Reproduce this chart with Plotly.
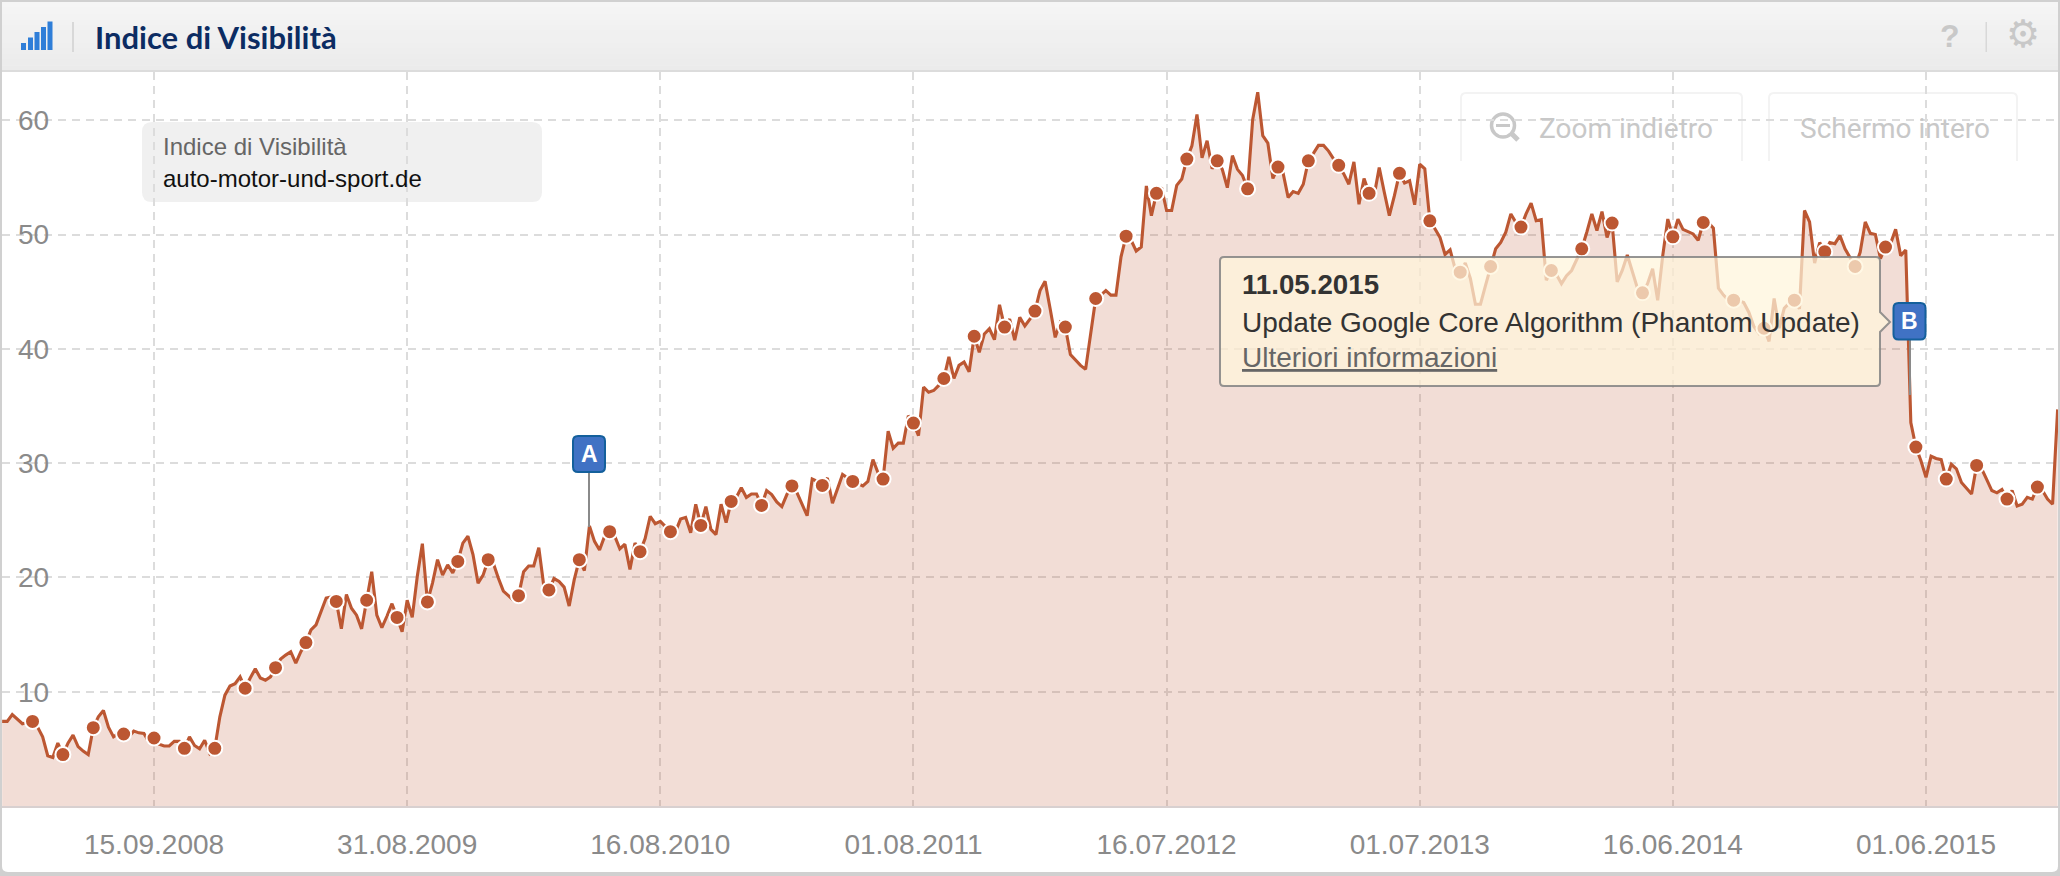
import pandas as pd
import plotly.graph_objects as go

TITLE = "Indice di Visibilità"
DOMAIN = "auto-motor-und-sport.de"
FIRST_WEEK = "2008-02-18"
TICK_DATES = ["2008-09-15", "2009-08-31", "2010-08-16", "2011-08-01",
              "2012-07-16", "2013-07-01", "2014-06-16", "2015-06-01"]
TICK_LABELS = ["15.09.2008", "31.08.2009", "16.08.2010", "01.08.2011",
               "16.07.2012", "01.07.2013", "16.06.2014", "01.06.2015"]
Y_TICKS = [10, 20, 30, 40, 50, 60]
VISIBILITY = [
    7.4, 7.4, 8.0, 7.6, 7.2, 7.3, 7.4, 6.9, 6.05, 4.4,
    4.25, 5.5, 4.5, 5.5, 6.2, 5.2, 4.8, 4.5, 6.85, 7.8,
    8.35, 6.9, 6.05, 6.35, 6.3, 6.05, 6.55, 6.4, 6.35, 5.6,
    5.95, 5.4, 5.25, 5.25, 5.65, 5.65, 5.05, 6.05, 5.3, 5.0,
    5.75, 4.6, 5.05, 7.8, 9.7, 10.5, 10.7, 11.3, 10.3, 11.2,
    12, 11.2, 11, 11.3, 12.1, 12.85, 13.2, 13.5, 12.5, 13.5,
    14.3, 15.4, 15.85, 17, 18.2, 18.3, 17.9, 15.5, 18.5, 17.3,
    16.7, 15.5, 18, 20.5, 16.7, 15.6, 16.6, 17.7, 16.5, 15.25,
    18, 16.5, 20.1, 22.95, 17.85, 19.5, 21.55, 20.2, 21.1, 20.4,
    21.4, 23, 23.6, 22, 19.5, 20.2, 21.55, 21.25, 19.95, 18.8,
    18.4, 18, 18.4, 20.5, 21, 21, 22.6, 19.2, 18.9, 19.9,
    19.65, 19.15, 17.5, 19.8, 21.55, 20.6, 24.5, 23.15, 22.4, 23.6,
    24, 23.6, 22.5, 22.9, 20.7, 23, 22.25, 23.4, 25.35, 24.7,
    24.9, 24.45, 24, 24, 25.1, 25.25, 23.9, 26.4, 24.55, 26.2,
    24.2, 23.75, 26.4, 24.8, 26.65, 27, 27.85, 27, 27.3, 27.3,
    26.3, 27.6, 27.25, 26.6, 26.2, 27.25, 28, 27.4, 26.4, 25.4,
    28.6, 28.4, 28.05, 28.7, 26.5, 27.85, 29, 28.7, 28.4, 28.2,
    28, 28.4, 30.3, 29.15, 28.6, 32.8, 31.3, 31.75, 31.75, 34.15,
    33.5, 32.4, 36.65, 36.2, 36.35, 36.8, 37.4, 39.3, 37.4, 38.55,
    38.85, 38, 41.1, 39.7, 41.3, 41.75, 40.8, 43.85, 41.9, 42.6,
    40.75, 42.75, 42, 42.6, 43.3, 45.1, 45.9, 43.5, 41, 42.3,
    41.9, 39.5, 39, 38.55, 38.2, 41.15, 44.4, 44.7, 45.1, 44.7,
    44.7, 48.05, 49.85, 49.5, 48.55, 48.9, 54.25, 51.65, 53.6, 54.1,
    52.1, 52.1, 54.3, 54.85, 56.6, 57.75, 60.5, 56.7, 58.2, 55.75,
    56.45, 55.7, 54.1, 56.9, 55.7, 55.15, 54, 60.05, 62.45, 58.65,
    58, 54.9, 55.9, 55.4, 53.25, 53.75, 53.6, 54.4, 56.45, 57.1,
    57.8, 57.8, 57.3, 56.6, 56.05, 55.3, 54.4, 56.35, 52.65, 54.9,
    53.6, 53.4, 55.85, 53.7, 51.65, 53.4, 55.35, 54.5, 54.7, 52.6,
    56.15, 55.75, 51.2, 50.5, 49.75, 48.25, 48.65, 47, 46.7, 47.5,
    46.15, 43.9, 43.9, 45.55, 47.2, 48.75, 49.3, 50.2, 51.8, 51.05,
    50.65, 51.8, 52.75, 51.2, 51.3, 46, 46.85, 46.5, 45.7, 46.4,
    46.85, 47.75, 48.75, 50.2, 51.8, 50.35, 52, 49.75, 51, 45.85,
    46.85, 48.2, 46.85, 45.3, 44.9, 45.7, 47, 44.25, 48.15, 51.35,
    49.8, 51.35, 50.45, 50.25, 50.05, 49.5, 51.05, 51.05, 50.55, 45.3,
    44.7, 44.25, 44.25, 44.2, 44.05, 43.2, 41.95, 41.35, 41.8, 40.65,
    44.4, 41.8, 43.55, 44, 44.25, 43.5, 52.1, 51.1, 47.5, 49.3,
    48.5, 49.3, 49.2, 49.9, 48.75, 48, 47.2, 48.45, 51.1, 50.1,
    50, 47.9, 48.9, 49.2, 50.45, 48.15, 48.65, 33.55, 31.4, 30.2,
    28.75, 30.6, 30.4, 30.3, 28.6, 29.9, 29.5, 28.3, 27.8, 27.3,
    29.8, 29.5, 28.55, 27.6, 27.4, 27.7, 26.85, 27.6, 26.25, 26.4,
    27, 26.85, 27.9, 27.6, 26.85, 26.4, 34.7,
]

weeks = pd.date_range(FIRST_WEEK, periods=len(VISIBILITY), freq="7D")

L, R, T, B, W, H = 2, 2058, 72, 806, 2060, 876
LINE = "#BC5732"
FONT = "Liberation Sans"


def px(x):
    return (x - L) / (R - L)


def py(y):
    return (B - y) / (B - T)


def pt(x, y):
    return f"{px(x):.6f} {py(y):.6f}"


def rect(x0, y0, x1, y1, fill, layer="above", line=None, lw=0):
    return dict(type="rect", xref="paper", yref="paper", x0=px(x0), x1=px(x1),
                y0=py(y0), y1=py(y1), fillcolor=fill, layer=layer,
                line=dict(color=line or "rgba(0,0,0,0)", width=lw))


def rrect_path(x0, y0, x1, y1, r):
    return (f"M {pt(x0 + r, y0)} L {pt(x1 - r, y0)} Q {pt(x1, y0)} {pt(x1, y0 + r)} "
            f"L {pt(x1, y1 - r)} Q {pt(x1, y1)} {pt(x1 - r, y1)} L {pt(x0 + r, y1)} "
            f"Q {pt(x0, y1)} {pt(x0, y1 - r)} L {pt(x0, y0 + r)} Q {pt(x0, y0)} {pt(x0 + r, y0)} Z")


def path(d, fill="rgba(0,0,0,0)", line=None, lw=0, layer="above"):
    return dict(type="path", xref="paper", yref="paper", path=d, fillcolor=fill, layer=layer,
                line=dict(color=line or "rgba(0,0,0,0)", width=lw))


def seg(x0, y0, x1, y1, color, lw, layer="above"):
    return dict(type="line", xref="paper", yref="paper", x0=px(x0), x1=px(x1), y0=py(y0), y1=py(y1),
                layer=layer, line=dict(color=color, width=lw))


def text(x, y, s, size, color, family=FONT, anchor="left"):
    return dict(xref="paper", yref="paper", x=px(x), y=py(y), text=s, showarrow=False, xanchor=anchor,
                yanchor="middle", borderpad=0, font=dict(size=size, color=color, family=family))


shapes = []
# white card on grey frame
shapes.append(path(rrect_path(2, 2, 2058, 872, 6), fill="#ffffff", layer="below"))
# gridline masks
shapes.append(rect(L, T, R, 92, "#ffffff", "between"))
shapes.append(rect(L, 92, 8, B, "#ffffff", "between"))
shapes.append(rect(2048, 92, R, B, "#ffffff", "between"))
for v in Y_TICKS:
    yy = B - v * 11.43
    shapes.append(rect(16, yy - 12, 56, yy + 12, "#ffffff", "between"))
# value legend box
shapes.append(path(rrect_path(142, 122, 542, 202, 10), fill="#f0f0f0", layer="between"))
# buttons
for x0, x1 in [(1461, 1742), (1769, 2017)]:
    shapes.append(path(f"M {pt(x0, 161)} L {pt(x0, 98)} Q {pt(x0, 93)} {pt(x0 + 5, 93)} "
                       f"L {pt(x1 - 5, 93)} Q {pt(x1, 93)} {pt(x1, 98)} L {pt(x1, 161)}",
                       line="#f3f3f3", lw=2, layer="between"))
# magnifier
shapes.append(dict(type="circle", xref="paper", yref="paper", x0=px(1491.5), x1=px(1514.5), y0=py(114), y1=py(137),
                   layer="between", fillcolor="rgba(0,0,0,0)", line=dict(color="#c8c8c8", width=3.5)))
shapes.append(seg(1496, 125.5, 1510, 125.5, "#c8c8c8", 3, "between"))
shapes.append(seg(1512, 134, 1518, 140, "#c8c8c8", 5, "between"))

# header
bands = 12
for i in range(bands):
    g = 245 - round(i * 10 / (bands - 1))
    shapes.append(rect(2, 2 + i * 69 / bands, 2058, 2 + (i + 1) * 69 / bands + 0.5, f"rgb({g},{g},{g})"))
shapes.append(rect(2, 70, 2058, 72, "#dcdcdc"))
for x0, top in zip([21, 28, 34.5, 41, 47.5], [43, 37.5, 32, 27, 21.5]):
    shapes.append(rect(x0, top, x0 + 5, 50, "#2f7ed8"))
shapes.append(rect(72, 22, 74, 52, "#d8d8d8"))
shapes.append(rect(1985.5, 22, 1987, 52, "#d8d8d8"))

# flag A
shapes.append(seg(589, 472, 589, 527, "#8a8a8a", 2))
shapes.append(path(rrect_path(573, 436, 605, 472, 5), fill="#4072c4", line="#14609c", lw=2))
# tooltip
tx0, ty0, tx1, ty1, r = 1220, 257, 1880, 386, 4
tooltip = (f"M {pt(tx0 + r, ty0)} L {pt(tx1 - r, ty0)} Q {pt(tx1, ty0)} {pt(tx1, ty0 + r)} "
           f"L {pt(tx1, 312)} L {pt(1890, 322)} L {pt(tx1, 332)} L {pt(tx1, ty1 - r)} "
           f"Q {pt(tx1, ty1)} {pt(tx1 - r, ty1)} L {pt(tx0 + r, ty1)} Q {pt(tx0, ty1)} {pt(tx0, ty1 - r)} "
           f"L {pt(tx0, ty0 + r)} Q {pt(tx0, ty0)} {pt(tx0 + r, ty0)} Z")
shapes.append(path(tooltip, fill="rgba(255,245,219,0.72)", line="rgba(130,130,130,0.85)", lw=2))
# flag B
shapes.append(seg(1910, 340, 1910, 395, "#8a8a8a", 2))
shapes.append(path(rrect_path(1893.5, 303, 1925.5, 339.5, 5), fill="#4072c4", line="#14609c", lw=2))

annotations = [
    text(94, 37, f"<b>{TITLE}</b>", 31, "#0c2c62", "Lato"),
    text(1950, 36, "<b>?</b>", 32, "#c8c8c8", FONT, "center"),
    text(2023, 34, "⚙", 38, "#c8c8c8", "DejaVu Sans", "center"),
    text(162, 146, TITLE, 24, "#666666"),
    text(162, 178, DOMAIN, 24, "#111111"),
    text(1538, 128, "Zoom indietro", 28, "#c8c8c8", "Roboto"),
    text(1799, 128, "Schermo intero", 28, "#c8c8c8", "Roboto"),
    text(589, 454, "<b>A</b>", 23, "#ffffff", FONT, "center"),
    text(1909.5, 321, "<b>B</b>", 23, "#ffffff", FONT, "center"),
    text(1241, 284, "<b>11.05.2015</b>", 27.7, "#333333"),
    text(1241, 322, "Update Google Core Algorithm (Phantom Update)", 28, "#333333"),
    text(1241, 357, "<u>Ulteriori informazioni</u>", 28, "#666666"),
]

fig = go.Figure()
fig.add_trace(go.Scatter(x=weeks, y=VISIBILITY, mode="lines", fill="tozeroy", fillcolor="rgba(188,87,50,0.2)",
                         line=dict(color=LINE, width=3.1), hoverinfo="skip", showlegend=False))
fig.add_trace(go.Scatter(x=weeks[6::6], y=VISIBILITY[6::6], mode="markers",
                         marker=dict(size=15, color=LINE, line=dict(color="#ffffff", width=2)),
                         hoverinfo="skip", showlegend=False))

fig.update_layout(
    width=W, height=H, autosize=False,
    margin=dict(l=L, r=W - R, t=T, b=H - B, pad=0),
    paper_bgcolor="#d0d0d0", plot_bgcolor="rgba(0,0,0,0)",
    shapes=shapes, annotations=annotations, showlegend=False,
    font=dict(family=FONT),
    xaxis=dict(type="date", range=["2008-02-17 19:00", "2015-11-30 12:00"],
               tickmode="array", tickvals=TICK_DATES, ticktext=TICK_LABELS,
               tickfont=dict(size=28, color="#8a8a8a", family=FONT), ticks="", ticklabelstandoff=12,
               showgrid=True, gridcolor="#dcdcdc", gridwidth=2, griddash="8px,6px",
               showline=True, linecolor="#d8d0d0", linewidth=2, zeroline=False, automargin=False),
    yaxis=dict(range=[0, (B - T) / 11.43], tickmode="array", tickvals=Y_TICKS,
               ticklabelposition="inside", ticklabelstandoff=13, ticks="",
               tickfont=dict(size=28, color="#8a8a8a", family=FONT),
               showgrid=True, gridcolor="#dcdcdc", gridwidth=2, griddash="8px,6px",
               showline=False, zeroline=False, automargin=False),
)

fig.write_html("out.html", config=dict(displayModeBar=False),
               post_script="document.body.style.margin='0';document.body.style.overflow='hidden';")
